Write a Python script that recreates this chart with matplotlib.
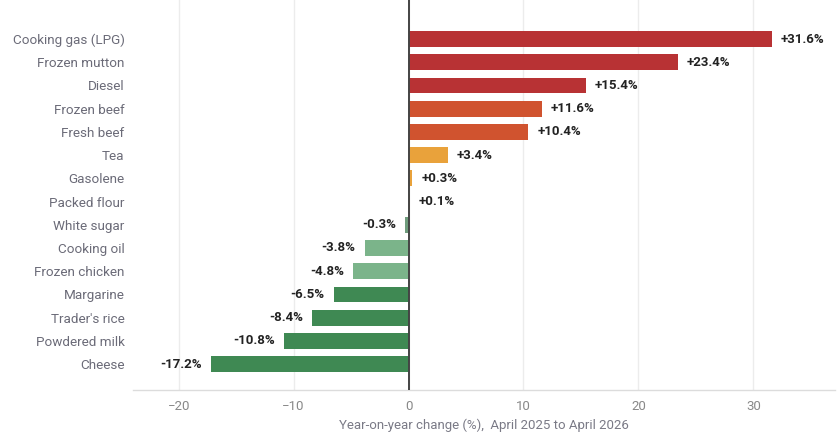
import matplotlib
matplotlib.use("Agg")
import matplotlib.pyplot as plt

items = ["Cooking gas (LPG)", "Frozen mutton", "Diesel", "Frozen beef", "Fresh beef",
         "Tea", "Gasolene", "Packed flour", "White sugar", "Cooking oil",
         "Frozen chicken", "Margarine", "Trader's rice", "Powdered milk", "Cheese"]
changes = [31.6, 23.4, 15.4, 11.6, 10.4, 3.4, 0.3, 0.1, -0.3, -3.8, -4.8, -6.5, -8.4, -10.8, -17.2]
x_ticks = [-20, -10, 0, 10, 20, 30]


def bar_colour(v):
    if v >= 15:
        return "#b83234"
    if v >= 10:
        return "#d0532f"
    if v > 0:
        return "#e9a23b"
    if v > -1:
        return "#6f9c7c"
    if v > -5:
        return "#7bb48a"
    return "#3f8953"


plt.rcParams["font.family"] = ["Roboto", "DejaVu Sans"]
fig = plt.figure(figsize=(8.4, 4.32), dpi=100)
ax = fig.add_axes([0.158, 0.097, 0.836, 0.903])

ypos = list(range(len(items)))
ax.barh(ypos, changes, height=0.68, color=[bar_colour(v) for v in changes], zorder=2)

for y, v in zip(ypos, changes):
    txt = f"+{v:.1f}%" if v > 0 else f"-{abs(v):.1f}%"
    if v >= 0:
        ax.text(v + 0.8, y, txt, va="center", ha="left", fontsize=9.5,
                fontweight="bold", color="#222222", zorder=3)
    else:
        ax.text(v - 0.8, y, txt, va="center", ha="right", fontsize=9.5,
                fontweight="bold", color="#222222", zorder=3)

ax.axvline(0, color="#444444", lw=1.4, zorder=4)

ax.set_xlim(-24, 37.1)
ax.set_ylim(15.12, -1.68)
ax.set_yticks(ypos)
ax.set_yticklabels(items, fontsize=9.7, color="#6b6b78")
ax.set_xticks(x_ticks)
ax.set_xticklabels([str(t).replace("-", "\u2212") for t in x_ticks], fontsize=9.5, color="#888888")
ax.tick_params(axis="both", length=0)
ax.tick_params(axis="y", pad=6)
ax.tick_params(axis="x", pad=7)
ax.grid(axis="x", color="#ececec", lw=1, zorder=0)
ax.set_axisbelow(True)
for side in ["top", "right", "left"]:
    ax.spines[side].set_visible(False)
ax.spines["bottom"].set_color("#dcdcdc")
ax.spines["bottom"].set_linewidth(1)

ax.set_xlabel("Year-on-year change (%),  April 2025 to April 2026", fontsize=9.5,
              color="#7a7a86", labelpad=4)

fig.savefig("out.png", dpi=100, facecolor="white")
